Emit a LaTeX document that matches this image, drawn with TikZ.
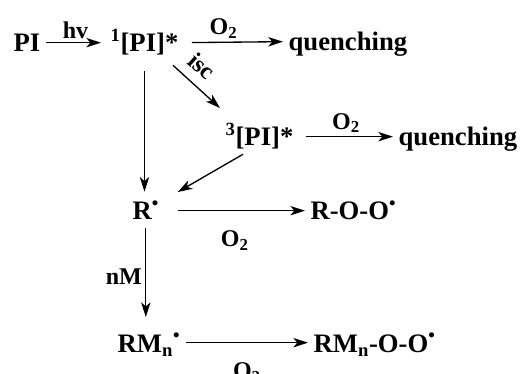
\documentclass[tikz,border=0pt]{standalone}
\usepackage{fontspec}
\setmainfont{Liberation Serif}
\usetikzlibrary{arrows.meta}
\newcommand{\chemfont}{\fontsize{20}{24}\selectfont\bfseries}
\newcommand{\lblfont}{\fontsize{18}{22}\selectfont\bfseries}

\begin{document}
\begin{tikzpicture}[
      x=0.75pt, y=-0.75pt,
      chem/.style={font=\chemfont, anchor=base west, inner xsep=4pt,
                   inner ysep=0pt, text height=14pt, text depth=0pt},
      lbl/.style={font=\lblfont, inner sep=2.5pt},
      arr/.style={-{Stealth[length=11pt,width=7pt,inset=3pt]},
                  line width=1pt},
      ]
    \useasboundingbox (0,0) rectangle (525,374);
    \node[chem] (pi) at (8,52) {PI};
    \node[chem] (s1) at (105,52) {\textsuperscript{1}[PI]*};
    \node[chem] (q1) at (283,51) {quenching};
    \node[chem] (t3) at (220,146) {\textsuperscript{3}[PI]*};
    \node[chem] (q2) at (393,146) {quenching};
    \node[chem] (r) at (127,220) {R\textsuperscript{•}};
    \node[chem] (roo) at (305,220) {R-O-O\textsuperscript{•}};
    \node[chem] (rmn) at (112,352) {RM\textsubscript{n}\textsuperscript{•}};
    \node[chem] (rmnoo) at (308,352) {RM\textsubscript{n}-O-O\textsuperscript{•}};

    \draw[arr, shorten >=3pt] (pi.east) -- node[lbl, above]{hv} (s1.west);
    \draw[arr, shorten <=6pt] (s1.east) -- node[lbl, above, pos=0.4]{O\textsubscript{2}} (q1.west);
    \draw[arr] ([shift={(-11,13)}]s1.south east) -- node[lbl, above=5pt, sloped, pos=0.35]{isc} ([shift={(0,-19)}]t3.north west);
    \draw[arr, shorten <=14pt, shorten >=7pt] (s1.south) -- (s1.south |- r.north);
    \draw[arr, shorten <=5pt] (t3.east) -- node[lbl, above]{O\textsubscript{2}} (q2.west);
    \draw[arr] ([shift={(23,8)}]t3.south west) -- ([shift={(13,-9)}]r.north east);
    \draw[arr, shorten <=10pt] (r.east) -- node[lbl, below=12pt]{O\textsubscript{2}} (roo.west);
    \draw[arr, shorten <=6pt, shorten >=12pt] (r.south) -- node[lbl, left]{nM} (r.south |- rmn.north);
    \draw[arr] (rmn.east) -- node[lbl, below=12pt]{O\textsubscript{2}} (rmnoo.west);
  \end{tikzpicture}
\end{document}
